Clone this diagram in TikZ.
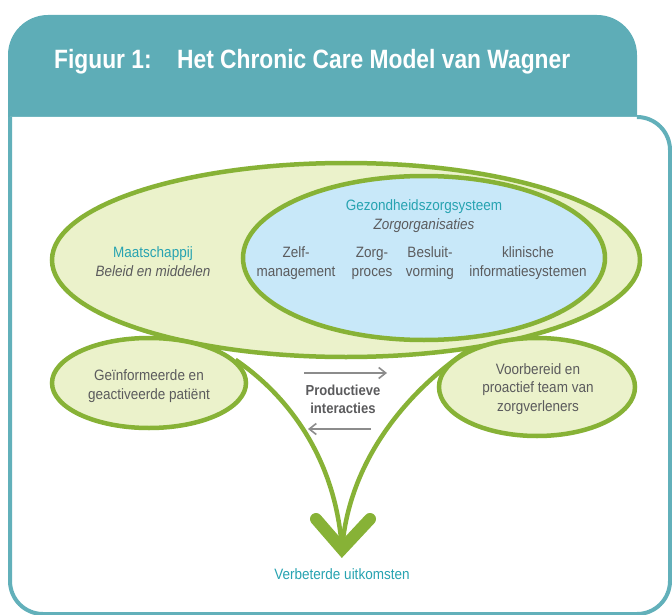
\documentclass[tikz,border=0pt]{standalone}
\usepackage{fontspec}
\setmainfont{Liberation Sans}[FakeStretch=0.9]
\newfontfamily\titlefont{Liberation Sans}[FakeStretch=0.86]
\usetikzlibrary{shapes.geometric,arrows.meta}
\pgfdeclarelayer{bg}
\pgfdeclarelayer{mid}
\pgfsetlayers{bg,mid,main}

\definecolor{hdr}{HTML}{5EADB7}
\definecolor{frame}{HTML}{62B0BA}
\definecolor{leaf}{HTML}{87B236}
\definecolor{leaffill}{HTML}{EBF2CB}
\definecolor{skyfill}{HTML}{C8E8F9}
\definecolor{tealtxt}{HTML}{27A3B1}
\definecolor{greytxt}{HTML}{5B5B5D}
\definecolor{greyarrow}{HTML}{8C8C8C}

\begin{document}
\begin{tikzpicture}[x=1pt,y=-1pt,
    body/.style={font=\fontsize{15}{19}\selectfont, text=greytxt, align=center, inner sep=0pt, anchor=base},
    head/.style={body, text=tealtxt},
    slanted/.style={body, font=\fontsize{15}{19}\selectfont\itshape},
    ring/.style={ellipse, draw=leaf, line width=4.5pt, fill=leaffill, inner sep=0pt},
    flow/.style={draw=leaf, line width=4.5pt},
    interact/.style={draw=greyarrow, line width=1.6pt, -{Straight Barb[length=7pt,width=11pt,line width=1.6pt]}},
  ]
  \useasboundingbox (0,0) rectangle (672,615);

  % header band and white panel
  \begin{pgfonlayer}{bg}
    \fill[hdr] (8,117) -- (8,55) arc[start angle=180, end angle=270, radius=40]
      -- (597,15) arc[start angle=270, end angle=360, radius=40] -- (637,117) -- cycle;
    \fill[white] (10,117) -- (10,581) arc[start angle=180, end angle=90, radius=33]
      -- (637,614) arc[start angle=90, end angle=0, radius=33]
      -- (670,150) arc[start angle=0, end angle=-90, radius=33] -- cycle;
    \draw[frame, line width=4pt] (10,117) -- (10,581) arc[start angle=180, end angle=90, radius=33]
      -- (637,614) arc[start angle=90, end angle=0, radius=33]
      -- (670,150) arc[start angle=0, end angle=-90, radius=33];
  \end{pgfonlayer}

  \node[anchor=base west, inner sep=0pt, text=white, font=\titlefont\fontsize{26.5}{30}\selectfont\bfseries]
    (fig) at (54,69) {Figuur 1:};
  \node[anchor=base west, inner sep=0pt, text=white, font=\titlefont\fontsize{26.5}{30}\selectfont\bfseries]
    (title) at (177,69) {Het Chronic Care Model van Wagner};

  % nested ellipses
  \node[ring, minimum width=588pt, minimum height=194pt] (society) at (346,260) {};
  \node[ring, fill=skyfill, minimum width=362pt, minimum height=164pt] (system) at (424,258) {};

  % the two side ellipses
  \node[ring, minimum width=194pt, minimum height=90pt] (patient) at (149,383) {};
  \node[ring, minimum width=196pt, minimum height=98pt] (team) at (537,387) {};

  % funnel towards the outcome
  \coordinate (tip) at (342,549);
  \coordinate (armL) at (316,519);
  \coordinate (armR) at (370,519);
  \begin{pgfonlayer}{mid}
    \draw[flow] (patient.15) .. controls (280,390) and (335,450) .. (tip);
    \draw[flow] (team.150) .. controls (420,382) and (350,450) .. (tip);
  \end{pgfonlayer}
  \draw[leaf, line width=12pt, line cap=round, line join=miter] (armL) -- (tip) -- (armR);

  % texts (multi-line nodes sit on the baseline of their last line)
  \node[head] (gzs) at (424,210) {Gezondheidszorgsysteem};
  \node[slanted] (zorgorg) at (424,229) {Zorgorganisaties};
  \node[body] (zelf) at (296,276) {Zelf-\\management};
  \node[body] (proces) at (372,276) {Zorg-\\proces};
  \node[body] (besluit) at (430,276) {Besluit-\\vorming};
  \node[body] (klin) at (528,276) {klinische\\informatiesystemen};

  \node[head] (maat) at (153,257) {Maatschappij};
  \node[slanted] (beleid) at (153,276) {Beleid en middelen};

  \node[body] (pattxt) at (149,399) {Geïnformeerde en\\geactiveerde patiënt};
  \node[body, font=\fontsize{15}{18.5}\selectfont] (teamtxt) at (538,411) {Voorbereid en\\proactief team van\\zorgverleners};

  \node[body, font=\fontsize{14.5}{18}\selectfont\bfseries, text=greytxt] (prod) at (343,413) {Productieve\\interacties};

  \coordinate (r0) at (304,373);
  \coordinate (r1) at (387,373);
  \coordinate (l0) at (371,429);
  \coordinate (l1) at (308,429);
  \draw[interact] (r0) -- (r1);
  \draw[interact] (l0) -- (l1);

  \node[head] (outcome) at (342,579) {Verbeterde uitkomsten};
\end{tikzpicture}
\end{document}
